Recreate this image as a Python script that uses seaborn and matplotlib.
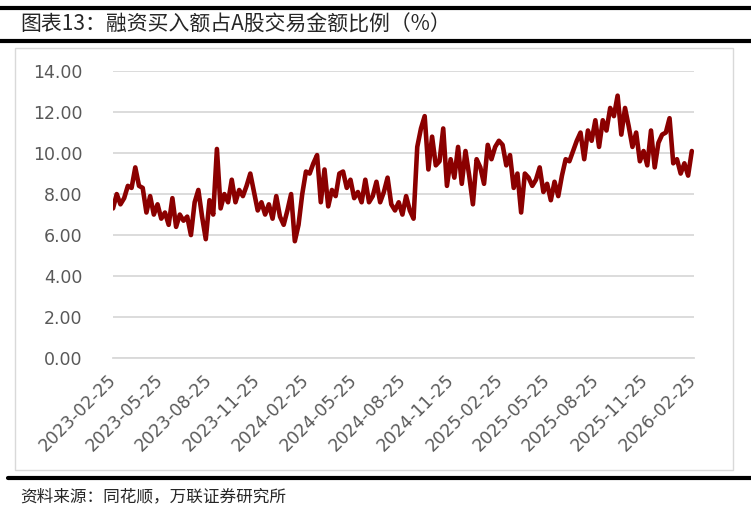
import pandas as pd
import matplotlib.pyplot as plt
from matplotlib.lines import Line2D
from matplotlib.patches import Rectangle
import seaborn as sns

sns.set_style("white")
plt.rcParams['font.family'] = ['Noto Sans CJK SC', 'DejaVu Sans']

# weekly readings of the ratio (%), starting 2023-02-25
start_date = '2023-02-25'
ratio = [
    7.3, 8.0, 7.5, 7.8, 8.4, 8.3, 9.3, 8.4, 8.3, 7.1,
    7.9, 7.0, 7.5, 6.8, 7.1, 6.5, 7.8, 6.4, 7.0, 6.7,
    6.9, 6.0, 7.6, 8.2, 6.9, 5.8, 7.7, 7.0, 10.2, 7.3,
    8.0, 7.6, 8.7, 7.6, 8.2, 7.9, 8.4, 9.0, 8.1, 7.2,
    7.6, 7.0, 7.5, 6.8, 7.9, 6.9, 6.5, 7.2, 8.0, 5.7,
    6.5, 8.0, 9.1, 9.0, 9.5, 9.9, 7.6, 9.2, 7.4, 8.2,
    7.9, 9.0, 9.1, 8.3, 8.7, 7.8, 8.1, 7.6, 8.7, 7.6,
    7.9, 8.6, 7.6, 8.1, 8.8, 7.5, 7.2, 7.6, 7.0, 7.9,
    7.2, 6.8, 10.3, 11.2, 11.8, 9.2, 10.8, 9.4, 9.6, 11.2,
    8.4, 9.7, 8.8, 10.3, 8.5, 10.1, 8.9, 7.5, 9.7, 9.3,
    8.5, 10.4, 9.7, 10.3, 10.6, 10.4, 9.4, 9.9, 8.3, 9.0,
    7.1, 9.0, 8.8, 8.4, 8.7, 9.3, 8.1, 8.5, 7.7, 8.6,
    7.9, 8.9, 9.7, 9.6, 10.1, 10.6, 11.0, 9.7, 11.1, 10.6,
    11.6, 10.3, 11.6, 11.1, 12.2, 11.8, 12.8, 10.9, 12.2, 11.3,
    10.3, 11.0, 9.6, 10.1, 9.4, 11.1, 9.3, 10.5, 10.9, 11.0,
    11.7, 9.5, 9.7, 9.0, 9.5, 8.9, 10.1,
]
dates = pd.date_range(start_date, periods=len(ratio), freq='7D')
df = pd.DataFrame({'date': dates, 'ratio': ratio})

tick_dates = pd.date_range('2023-02-25', '2026-02-25', freq=pd.DateOffset(months=3))
y_ticks = [0, 2, 4, 6, 8, 10, 12, 14]

title = '图表13：融资买入额占A股交易金额比例（%）'
source = '资料来源：同花顺，万联证券研究所'

fig = plt.figure(figsize=(7.51, 5.13), dpi=100)

# frame decorations
fig.add_artist(Line2D([0.0, 1.0], [0.985, 0.985], color='black', lw=3))
fig.add_artist(Line2D([0.0, 1.0], [0.921, 0.921], color='black', lw=3))
fig.add_artist(Line2D([0.01, 1.0], [0.068, 0.068], color='black', lw=3))
fig.add_artist(Rectangle((0.02, 0.084), 0.956, 0.823, transform=fig.transFigure,
                         fill=False, edgecolor='#d9d9d9', lw=1))
fig.text(0.027, 0.952, title, fontsize=15, va='center', ha='left')
fig.text(0.027, 0.031, source, fontsize=12, va='center', ha='left', style='italic')

ax = fig.add_axes([0.1505, 0.302, 0.7735, 0.5595])
sns.lineplot(data=df, x='date', y='ratio', ax=ax, color='#8b0000', linewidth=3.3)

ax.set_xlim(pd.Timestamp('2023-02-25'), pd.Timestamp('2026-02-25'))
ax.set_ylim(0, 14)
ax.set_yticks(y_ticks)
ax.set_yticklabels([f'{v:.2f}' for v in y_ticks])
ax.set_xticks(tick_dates)
ax.set_xticklabels([d.strftime('%Y-%m-%d') for d in tick_dates], rotation=45,
                   ha='right', va='center', rotation_mode='anchor')
ax.set_xlabel('')
ax.set_ylabel('')

ax.grid(axis='y', color='#d9d9d9', lw=1.3)
ax.grid(axis='x', visible=False)
for s in ['top', 'right', 'left']:
    ax.spines[s].set_visible(False)
ax.spines['bottom'].set_color('#d9d9d9')
ax.spines['bottom'].set_linewidth(1.3)
ax.tick_params(axis='y', length=0, pad=22, labelsize=12.5, labelcolor='#595959')
ax.tick_params(axis='x', length=5, width=1, color='#d9d9d9', pad=9,
               labelsize=12.5, labelcolor='#595959')
for lbl in ax.get_xticklabels() + ax.get_yticklabels():
    lbl.set_family(['DejaVu Sans'])

fig.savefig('out.png', dpi=100)
